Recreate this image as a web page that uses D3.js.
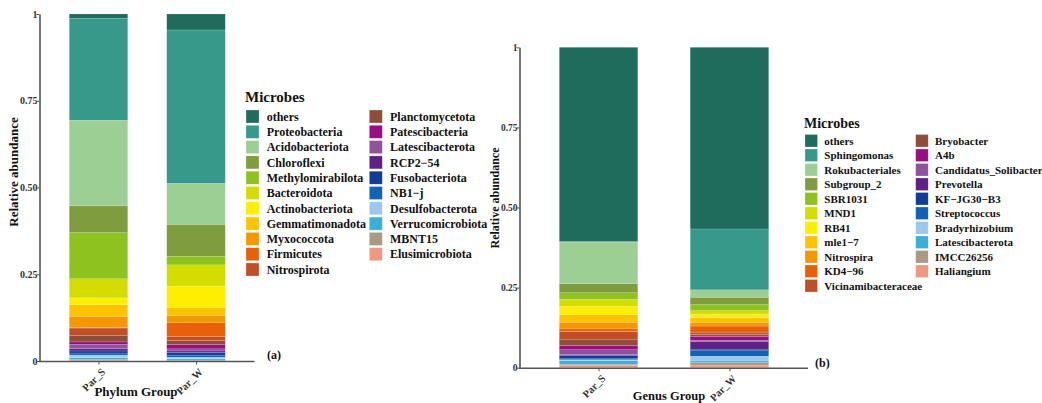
<!DOCTYPE html>
<html>
<head>
<meta charset="utf-8">
<script src="https://cdn.jsdelivr.net/npm/d3@7"></script>
<style>
  html, body { margin: 0; padding: 0; background: #ffffff; }
  svg { display: block; }
  text { font-family: "Liberation Serif", "Times New Roman", serif; font-weight: bold; }
</style>
</head>
<body>
<svg id="chart" width="1042" height="403"></svg>
<script>
// ---------------- DATA ----------------
const groups = ["Par_S", "Par_W"];

const phylumTaxa = ["others", "Proteobacteria", "Acidobacteriota", "Chloroflexi", "Methylomirabilota",
  "Bacteroidota", "Actinobacteriota", "Gemmatimonadota", "Myxococcota", "Firmicutes", "Nitrospirota",
  "Planctomycetota", "Patescibacteria", "Latescibacterota", "RCP2\u221254", "Fusobacteriota", "NB1\u2212j",
  "Desulfobacterota", "Verrucomicrobiota", "MBNT15", "Elusimicrobiota"];
const phylumParS = [0.012, 0.294, 0.247, 0.077, 0.133, 0.055, 0.020, 0.033, 0.032, 0.002, 0.022,
  0.018, 0.007, 0.012, 0.007, 0.006, 0.006, 0.007, 0.005, 0.003, 0.002];
const phylumParW = [0.046, 0.442, 0.118, 0.092, 0.025, 0.061, 0.063, 0.023, 0.020, 0.039, 0.012,
  0.012, 0.012, 0.006, 0.004, 0.008, 0.006, 0.004, 0.004, 0.002, 0.001];

const genusTaxa = ["others", "Sphingomonas", "Rokubacteriales", "Subgroup_2", "SBR1031", "MND1", "RB41",
  "mle1\u22127", "Nitrospira", "KD4\u221296", "Vicinamibacteraceae", "Bryobacter", "A4b",
  "Candidatus_Solibacter", "Prevotella", "KF\u2212JG30\u2212B3", "Streptococcus", "Bradyrhizobium",
  "Latescibacterota", "IMCC26256", "Haliangium"];
const genusParS = [0.606, 0.002, 0.130, 0.028, 0.021, 0.022, 0.026, 0.023, 0.021, 0.008, 0.026,
  0.018, 0.013, 0.015, 0.003, 0.010, 0.003, 0.003, 0.011, 0.003, 0.008];
const genusParW = [0.567, 0.190, 0.023, 0.023, 0.019, 0.012, 0.010, 0.014, 0.012, 0.019, 0.007,
  0.006, 0.012, 0.005, 0.023, 0.005, 0.017, 0.015, 0.005, 0.008, 0.008];

const palette = ["#1F6B5C", "#36998A", "#9CCF94", "#7F9C3E", "#8DC21F", "#D4DD00", "#FFEE00",
  "#FDC300", "#F39800", "#E8600A", "#C04E26", "#8F4E3A", "#9B0D85", "#91529D", "#5F2185",
  "#0F3E96", "#1064B5", "#9DC8EE", "#38B0DA", "#A99985", "#EF9881"];

const yTickValues = [0, 0.25, 0.5, 0.75, 1];
const yTickLabels = ["0", "0.25", "0.50", "0.75", "1"];

// ---------------- DRAW ----------------
const svg = d3.select("#chart");

function drawPanel(cfg) {
  const g = svg.append("g");
  const x = d3.scalePoint().domain(groups).range([cfg.x0, cfg.x1]).padding(0.6);
  const y = d3.scaleLinear().domain([0, 1]).range([cfg.yBottom, cfg.yTop]);
  const barW = x.step() * 0.6;

  const color = d3.scaleOrdinal().domain(cfg.taxa).range(palette);
  const rows = groups.map((grp, gi) => {
    const r = { group: grp };
    cfg.taxa.forEach((t, i) => { r[t] = cfg.values[gi][i]; });
    return r;
  });
  const stack = d3.stack().keys(cfg.taxa.slice().reverse());
  const series = stack(rows);

  g.selectAll("g.layer").data(series).join("g")
    .attr("fill", d => color(d.key))
    .selectAll("rect").data(d => d).join("rect")
    .attr("x", d => x(d.data.group) - barW / 2)
    .attr("width", barW)
    .attr("y", d => y(d[1]))
    .attr("height", d => Math.max(0, y(d[0]) - y(d[1])))
    .attr("stroke", "rgba(255,255,255,0.35)")
    .attr("stroke-width", 0.4);

  // y axis
  const yAxis = d3.axisLeft(y).tickValues(yTickValues)
    .tickFormat((d, i) => yTickLabels[i]).tickSize(3).tickSizeOuter(0);
  const ya = g.append("g").attr("transform", `translate(${cfg.x0 - 0.5},0)`).call(yAxis);
  ya.select(".domain").attr("stroke", "#555").attr("stroke-width", 1.6);
  ya.selectAll(".tick line").attr("stroke", "#555").attr("stroke-width", 1);
  ya.selectAll(".tick text").attr("fill", "#333").attr("font-size", cfg.tickFont)
    .attr("font-family", "Liberation Serif").attr("font-weight", "bold").attr("x", -2);

  // x axis
  const xAxis = d3.axisBottom(x).tickSize(3).tickSizeOuter(0);
  const xa = g.append("g").attr("transform", `translate(0,${cfg.yBottom + 0.5})`).call(xAxis);
  xa.select(".domain").attr("stroke", "#555").attr("stroke-width", 1.6)
    .attr("d", `M${cfg.x0 - 1},0H${cfg.x1}`);
  xa.selectAll(".tick line").attr("stroke", "#555").attr("stroke-width", 1);
  xa.selectAll(".tick text").attr("fill", "#333").attr("font-size", cfg.xTickFont)
    .attr("font-family", "Liberation Serif").attr("font-weight", "bold")
    .attr("text-anchor", "end").attr("y", 0).attr("dy", "0")
    .attr("transform", "translate(7,11) rotate(-45)");

  // axis titles
  g.append("text").attr("transform", `translate(${cfg.yTitleX},${cfg.yTitleY}) rotate(-90)`)
    .attr("text-anchor", "middle").attr("font-size", cfg.yTitleFont).attr("fill", "#111")
    .text("Relative abundance");
  g.append("text").attr("x", cfg.xTitleX).attr("y", cfg.xTitleY)
    .attr("text-anchor", "middle").attr("font-size", cfg.xTitleFont).attr("fill", "#111")
    .text(cfg.xTitle);

  // panel tag
  g.append("text").attr("x", cfg.tagX).attr("y", cfg.tagY)
    .attr("font-size", 12).attr("fill", "#111").text(cfg.tag);

  // legend
  const lg = g.append("g");
  lg.append("text").attr("x", cfg.legX).attr("y", cfg.legTitleY)
    .attr("font-size", cfg.legTitleFont).attr("fill", "#111").text("Microbes");
  cfg.taxa.forEach((t, i) => {
    const col = i < cfg.perCol ? 0 : 1;
    const row = i < cfg.perCol ? i : i - cfg.perCol;
    const sx = col === 0 ? cfg.legX + 1 : cfg.legX2;
    const sy = cfg.legTop + row * cfg.legStep;
    lg.append("rect").attr("x", sx).attr("y", sy)
      .attr("width", cfg.sw).attr("height", cfg.sw).attr("fill", color(t))
      .attr("stroke", "rgba(255,255,255,0.5)").attr("stroke-width", 0.5);
    lg.append("text").attr("x", sx + cfg.textOff).attr("y", sy + cfg.sw / 2 + cfg.legFont * 0.35)
      .attr("font-size", cfg.legFont).attr("fill", "#111").text(t);
  });
}

drawPanel({
  taxa: phylumTaxa, values: [phylumParS, phylumParW],
  x0: 40, x1: 254.5, yTop: 14, yBottom: 361,
  tickFont: 10, xTickFont: 10.5,
  yTitleX: 18, yTitleY: 172, yTitleFont: 13,
  xTitle: "Phylum Group", xTitleX: 136, xTitleY: 396, xTitleFont: 13,
  tag: "(a)", tagX: 267, tagY: 359,
  legX: 245, legX2: 369.3, legTitleY: 102, legTitleFont: 15,
  legTop: 110, legStep: 15.3, sw: 13, textOff: 20.7, legFont: 12, perCol: 11
});

drawPanel({
  taxa: genusTaxa, values: [genusParS, genusParW],
  x0: 520, x1: 808, yTop: 47.3, yBottom: 367.7,
  tickFont: 9.5, xTickFont: 10.5,
  yTitleX: 499, yTitleY: 198, yTitleFont: 12,
  xTitle: "Genus Group", xTitleX: 669, xTitleY: 400, xTitleFont: 12.5,
  tag: "(b)", tagX: 815, tagY: 367,
  legX: 804, legX2: 915.7, legTitleY: 128, legTitleFont: 14,
  legTop: 134.5, legStep: 14.5, sw: 12.5, textOff: 19.3, legFont: 11, perCol: 11
});
</script>
</body>
</html>
